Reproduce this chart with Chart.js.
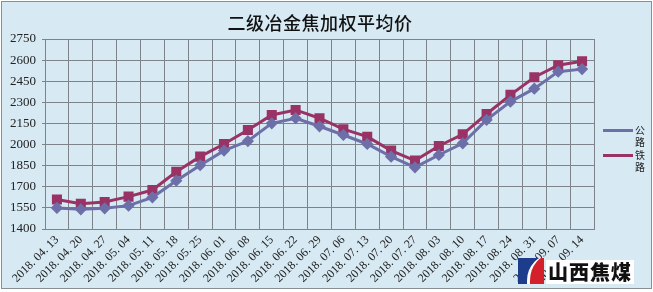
<!DOCTYPE html>
<html>
<head>
<meta charset="utf-8">
<script src="https://cdn.jsdelivr.net/npm/chart.js@4.4.0/dist/chart.umd.min.js"></script>
<style>
html,body{margin:0;padding:0;background:#fff;}
#wrap{position:relative;width:653px;height:292px;overflow:hidden;}
#frame{position:absolute;left:1px;top:1px;width:649px;height:286px;border:1px solid #8a8f93;background:#d7e9f3;box-sizing:content-box;}
#c{position:absolute;left:0;top:0;}
#title{position:absolute;left:0;width:640px;top:9px;text-align:center;font-family:"Noto Sans CJK SC";font-size:18px;font-weight:500;color:#111;letter-spacing:0.5px;}
.lg{position:absolute;left:603px;font-family:"Noto Sans CJK SC";font-size:10px;line-height:12px;color:#222;}
.lg .ln{position:absolute;left:0;width:30px;height:3px;}
.lg .tx{position:absolute;left:32px;width:12px;}
#logo{position:absolute;left:515px;top:256px;width:122px;height:30px;}
#lb{position:absolute;left:3px;top:2px;width:26px;height:26px;background:#1d3c8c;overflow:hidden;}
#lr{position:absolute;left:9px;top:-4px;width:40px;height:44px;background:#d3202a;border-radius:60% 0 0 0;border-left:3px solid #fff;}
#lt{position:absolute;left:31px;top:4px;background:#fff;padding:0 2px;font-family:"Noto Sans CJK SC";font-weight:900;font-size:20px;line-height:24px;color:#111;letter-spacing:1px;}
</style>
</head>
<body>
<div id="wrap">
<div id="frame"></div>
<canvas id="c" width="653" height="292"></canvas>
<div id="title">二级冶金焦加权平均价</div>
<div class="lg" style="top:128px"><div class="ln" style="top:1px;background:#6d6fa8"></div><div class="tx" style="top:-4px">公<br>路</div></div>
<div class="lg" style="top:153px"><div class="ln" style="top:1px;background:#993366"></div><div class="tx" style="top:-4px">铁<br>路</div></div>
<div id="logo"><div id="lb"><div id="lr"></div></div><div id="lt">山西焦煤</div></div>
</div>
<script>
const categories = ["2018.04.13","2018.04.20","2018.04.27","2018.05.04","2018.05.11","2018.05.18","2018.05.25","2018.06.01","2018.06.08","2018.06.15","2018.06.22","2018.06.29","2018.07.06","2018.07.13","2018.07.20","2018.07.27","2018.08.03","2018.08.10","2018.08.17","2018.08.24","2018.08.31","2018.09.07","2018.09.14"];
const highway = [1550,1540,1547,1566,1625,1743,1853,1957,2025,2151,2187,2130,2068,2004,1914,1838,1926,2009,2175,2305,2397,2518,2536];
const railway = [1610,1580,1592,1630,1677,1807,1914,2004,2104,2210,2246,2187,2109,2056,1957,1886,1990,2073,2217,2353,2478,2564,2592];
const seriesNames = ["公路","铁路"];
const yMin = 1400, yMax = 2750, yStep = 150;

const gridColor = '#7d8388';
new Chart(document.getElementById('c'), {
  type: 'line',
  data: {
    labels: categories,
    datasets: [
      {label: seriesNames[0], data: highway, borderColor:'#6d6fa8', backgroundColor:'#6d6fa8', borderWidth:3, pointStyle:'rectRot', pointRadius:4, pointHoverRadius:4, tension:0},
      {label: seriesNames[1], data: railway, borderColor:'#993366', backgroundColor:'#993366', borderWidth:3, pointStyle:'rect', pointRadius:5, pointHoverRadius:5, tension:0}
    ]
  },
  options: {
    responsive:false, animation:false,
    layout:{padding:{left:0,right:59,top:39,bottom:0}},
    plugins:{legend:{display:false}, title:{display:false}, tooltip:{enabled:false}},
    scales:{
      x:{
        offset:true,
        grid:{offset:true, color:gridColor, lineWidth:1, tickLength:0},
        border:{color:gridColor},
        ticks:{font:{family:'Liberation Serif', size:12}, color:'#222', minRotation:45, maxRotation:45, padding:4, autoSkip:false,
          callback(v){ return this.getLabelForValue(v).replace(/\./g,'. '); }},
        afterFit(s){ s.height = 63; }
      },
      y:{
        min:yMin, max:yMax,
        grid:{color:gridColor, lineWidth:1, tickLength:3},
        border:{color:gridColor},
        ticks:{stepSize:yStep, font:{family:'Liberation Serif', size:13}, color:'#222', padding:6,
          callback(v){ return String(v); }},
        afterFit(s){ s.width = 45; }
      }
    }
  }
});
</script>
</body>
</html>
